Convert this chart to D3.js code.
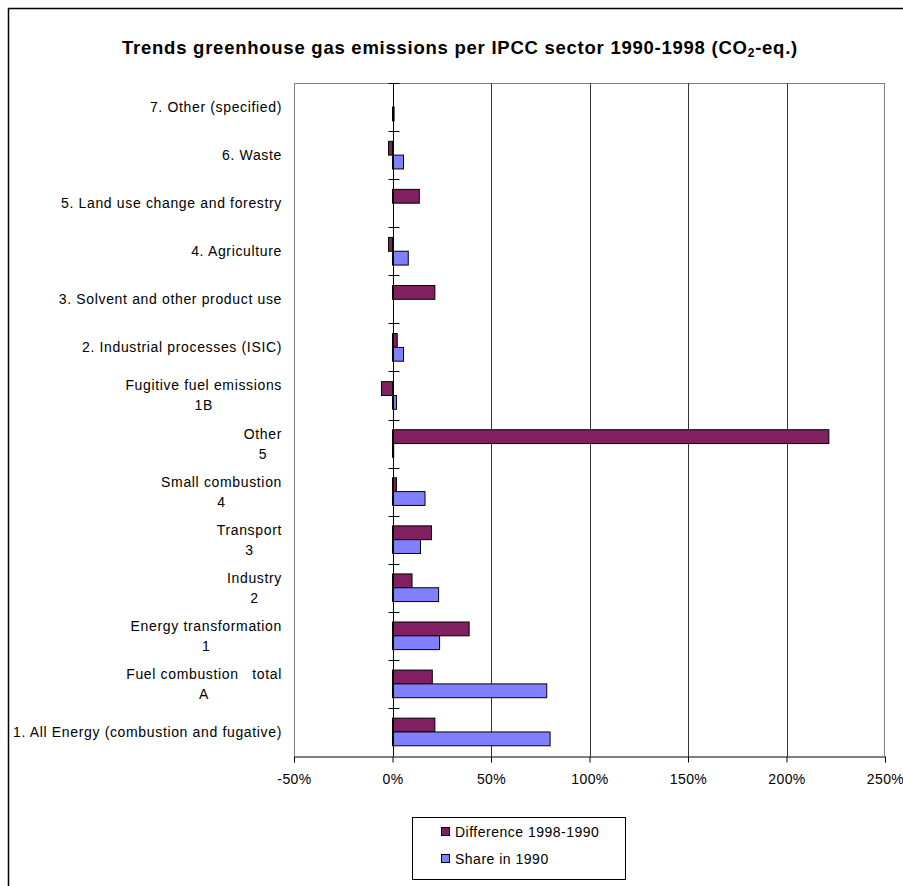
<!DOCTYPE html>
<html>
<head>
<meta charset="utf-8">
<script src="https://cdn.jsdelivr.net/npm/d3@7"></script>
<style>
  body { margin: 0; background: #fff; }
  svg text { font-family: "Liberation Sans", Arial, sans-serif; fill: #000; }
</style>
</head>
<body>
<svg id="canvas" width="903" height="886"></svg>
<script>
// categories, top to bottom; "\n" splits a label over two lines
var categories = [
	"7. Other (specified)",
	"6. Waste",
	"5. Land use change and forestry",
	"4. Agriculture",
	"3. Solvent and other product use",
	"2. Industrial processes (ISIC)",
	"Fugitive fuel emissions\n1B",
	"Other\n5",
	"Small combustion\n4",
	"Transport\n3",
	"Industry\n2",
	"Energy transformation\n1",
	"Fuel combustion   total\nA",
	"1. All Energy (combustion and fugative)"
];
var difference = [0, -2.0, 13.6, -2.0, 21.5, 2.4, -5.6, 221.5, 2.0, 19.8, 9.9, 38.9, 20.2, 21.5];
var share1990 = [0.8, 5.6, 0, 8.0, 0, 5.6, 2.0, 0.6, 16.5, 14.2, 23.4, 23.9, 78.3, 80.0];
var seriesNames = ["Difference 1998-1990", "Share in 1990"];
var seriesColors = ["#802060", "#8080ff"];
var xTicks = [-50, 0, 50, 100, 150, 200, 250];

var svg = d3.select("#canvas");

// outer chart border
svg.append("rect")
	.attr("x", 8.5).attr("y", 8.5)
	.attr("width", 1000).attr("height", 1000)
	.attr("fill", "none").attr("stroke", "#000").attr("stroke-width", 1.5);

// title
var title = svg.append("text")
	.attr("x", 460).attr("y", 54)
	.attr("text-anchor", "middle")
	.style("font-size", "18.5px").style("font-weight", "bold")
	.style("letter-spacing", "0.75px");
title.append("tspan").text("Trends greenhouse gas emissions per IPCC sector 1990-1998 (CO");
title.append("tspan").text("2").style("font-size", "12px").attr("dy", 3);
title.append("tspan").text("-eq.)").attr("dy", -3);

var plotLeft = 294, plotRight = 885, plotTop = 83, plotBottom = 756;

var x = d3.scaleLinear().domain([-50, 250]).range([plotLeft, plotRight]);
var y = d3.scaleBand().domain(categories).range([plotTop, plotBottom]).padding(0);
var ySub = d3.scaleBand().domain(seriesNames).range([0, y.bandwidth()])
	.paddingInner(0).paddingOuter(0.74);

// plot frame: top, right, left in gray
var frame = svg.append("g").attr("stroke", "#808080").attr("stroke-width", 1);
frame.append("line").attr("x1", plotLeft).attr("x2", plotRight).attr("y1", plotTop + 0.5).attr("y2", plotTop + 0.5);
frame.append("line").attr("x1", plotRight - 0.5).attr("x2", plotRight - 0.5).attr("y1", plotTop).attr("y2", plotBottom);
frame.append("line").attr("x1", plotLeft + 0.5).attr("x2", plotLeft + 0.5).attr("y1", plotTop).attr("y2", plotBottom);

// gridlines
svg.append("g").selectAll("line")
	.data(xTicks.filter(function(t) { return t > 0 && t < 250; }))
	.enter().append("line")
	.attr("x1", function(d) { return Math.round(x(d)) + 0.5; })
	.attr("x2", function(d) { return Math.round(x(d)) + 0.5; })
	.attr("y1", plotTop).attr("y2", plotBottom)
	.attr("stroke", "#333").attr("stroke-width", 1);

// bars
var rows = categories.map(function(c, i) {
	return { cat: c, values: [difference[i], share1990[i]] };
});

var groups = svg.append("g").selectAll("g")
	.data(rows)
	.enter().append("g")
	.attr("transform", function(d) { return "translate(0," + y(d.cat) + ")"; });

groups.selectAll("rect")
	.data(function(d) {
		return d.values.map(function(v, k) { return { name: seriesNames[k], value: v, k: k }; });
	})
	.enter().append("rect")
	.attr("x", function(d) { return x(Math.min(0, d.value)); })
	.attr("y", function(d) { return ySub(d.name); })
	.attr("width", function(d) { return Math.abs(x(d.value) - x(0)); })
	.attr("height", ySub.bandwidth())
	.attr("fill", function(d) { return seriesColors[d.k]; })
	.attr("stroke", "#000").attr("stroke-width", 1)
	.style("display", function(d) { return d.value === 0 ? "none" : null; });

// category axis at 0%
var x0 = Math.round(x(0)) + 0.5;
var catAxis = svg.append("g").attr("stroke", "#000").attr("stroke-width", 1);
catAxis.append("line").attr("x1", x0).attr("x2", x0).attr("y1", plotTop).attr("y2", plotBottom);
catAxis.selectAll(".tick")
	.data(categories.slice(1).map(function(c) { return y(c); }).concat([plotTop]))
	.enter().append("line")
	.attr("x1", x0 - 5).attr("x2", x0 + 6)
	.attr("y1", function(d) { return Math.round(d) + 0.5; })
	.attr("y2", function(d) { return Math.round(d) + 0.5; });

// category labels, Excel-like: block right aligned, lines centred
var labelRight = 282;
var labels = svg.append("g").style("font-size", "14px").style("letter-spacing", "0.65px");
categories.forEach(function(c) {
	var lines = c.split("\n");
	var cy = y(c) + y.bandwidth() / 2;
	var t = labels.append("text").attr("xml:space", "preserve").style("white-space", "pre");
	if (lines.length === 1) {
		t.attr("x", labelRight).attr("y", cy + 5).attr("text-anchor", "end").text(c);
	} else {
		var widths = lines.map(function(l) {
			var s = labels.append("text").attr("xml:space", "preserve").style("white-space", "pre").text(l);
			var w = s.node().getComputedTextLength();
			s.remove();
			return w;
		});
		var mid = labelRight - d3.max(widths) / 2;
		lines.forEach(function(l, i) {
			t.append("tspan").attr("x", mid).attr("y", cy - 5 + i * 20)
				.attr("text-anchor", "middle").text(l);
		});
	}
});

// value axis at bottom
var xAxis = svg.append("g")
	.attr("transform", "translate(0," + (plotBottom + 0.5) + ")")
	.call(d3.axisBottom(x).tickValues(xTicks).tickSize(6).tickPadding(12)
		.tickFormat(function(d) { return d + "%"; }));
xAxis.select(".domain").attr("stroke", "#000");
xAxis.selectAll(".tick line").attr("stroke", "#000");
xAxis.selectAll(".tick text")
	.style("font-size", "14px")
	.style("letter-spacing", "0.4px")
	.style("font-family", "Liberation Sans, Arial, sans-serif");

// legend
var legend = svg.append("g");
legend.append("rect")
	.attr("x", 412.5).attr("y", 817.5).attr("width", 213).attr("height", 62)
	.attr("fill", "#fff").attr("stroke", "#000").attr("stroke-width", 1);
seriesNames.forEach(function(n, i) {
	var ly = 832 + i * 27;
	legend.append("rect")
		.attr("x", 441.5).attr("y", ly - 4.5).attr("width", 8).attr("height", 8)
		.attr("fill", seriesColors[i]).attr("stroke", "#000");
	legend.append("text")
		.attr("x", 455).attr("y", ly + 5)
		.style("font-size", "14px")
		.style("letter-spacing", "0.5px")
		.text(n);
});
</script>
</body>
</html>
